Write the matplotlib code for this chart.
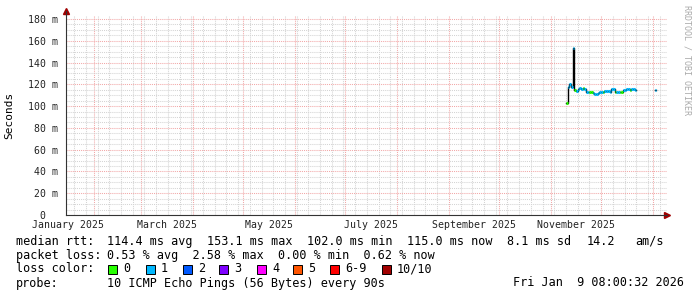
import numpy as np
import pandas as pd
import matplotlib
matplotlib.use("Agg")
import matplotlib.pyplot as plt
import matplotlib.dates as mdates
from matplotlib.patches import Rectangle
from matplotlib.ticker import MultipleLocator, FuncFormatter

W, H = 697, 297

# daily median rtt (ms) and lost pings (out of 10)
dias = ['2025-11-10', '2025-11-11', '2025-11-12', '2025-11-13', '2025-11-14',
        '2025-11-15', '2025-11-16', '2025-11-17', '2025-11-18', '2025-11-19',
        '2025-11-20', '2025-11-21', '2025-11-22', '2025-11-23', '2025-11-24',
        '2025-11-25', '2025-11-26', '2025-11-27', '2025-11-28', '2025-11-29',
        '2025-11-30', '2025-12-01', '2025-12-02', '2025-12-03', '2025-12-04',
        '2025-12-05', '2025-12-06', '2025-12-07', '2025-12-08', '2025-12-09',
        '2025-12-10', '2025-12-11', '2025-12-12', '2025-12-13', '2025-12-14',
        '2025-12-15', '2025-12-16', '2025-12-17', '2025-12-18', '2025-12-19',
        '2025-12-20', '2025-12-21', '2026-01-02']
mediana = [102.5, 117.5, 120.0, 118.0, 153.1, 114.5, 114.0, 116.0, 116.5, 116.0,
           116.5, 116.0, 112.5, 112.5, 113.0, 112.5, 112.0, 111.5, 111.5, 112.0,
           112.5, 112.5, 113.0, 113.5, 114.0, 113.5, 113.0, 115.5, 116.0, 113.0,
           112.5, 113.0, 112.5, 112.5, 114.5, 115.0, 115.5, 115.5, 115.0, 115.5,
           115.5, 115.0, 115.0]
perdas = [0, 1, 1, 1, 1, 0, 1, 1, 1, 1,
          0, 1, 1, 1, 0, 0, 1, 1, 1, 1,
          1, 1, 0, 1, 1, 1, 1, 1, 1, 0,
          1, 1, 0, 0, 1, 1, 1, 1, 0, 1,
          1, 1, 1]

loss_labels = ['0', '1', '2', '3', '4', '5', '6-9', '10/10']
loss_colors = ['#26ff00', '#00b8ff', '#0059ff', '#7e00ff', '#ff00ff',
               '#ff5500', '#ff0000', '#a10000']

x_labels = ['January 2025', 'March 2025', 'May 2025', 'July 2025',
            'September 2025', 'November 2025']

mono = 'DejaVu Sans Mono'

fig = plt.figure(figsize=(W / 100, H / 100), dpi=100)
fig.patch.set_facecolor('white')
ax = fig.add_axes([66 / W, 82 / H, (667 - 66) / W, 200 / H])

inicio = pd.Timestamp('2026-01-01') - pd.Timedelta(days=587 / 1.673)
fim = pd.Timestamp('2026-01-01') + pd.Timedelta(days=14 / 1.673)
ax.set_xlim(inicio, fim)
ax.set_ylim(0, 200 * 180 / 196)

# grid
ax.xaxis.set_major_locator(mdates.MonthLocator())
ax.xaxis.set_minor_locator(mdates.WeekdayLocator(byweekday=mdates.MO))
ax.yaxis.set_major_locator(MultipleLocator(20))
ax.yaxis.set_minor_locator(MultipleLocator(5))
ax.grid(which='minor', color='#d4d4d4', linestyle=(0, (1, 1)), linewidth=0.75)
ax.grid(which='major', color='#f2a8a8', linestyle=(0, (1, 1)), linewidth=0.75)
ax.set_axisbelow(True)
ax.tick_params(which='both', length=0)
ax.xaxis.set_major_formatter(FuncFormatter(lambda v, p: ''))
ax.yaxis.set_major_formatter(FuncFormatter(lambda v, p: '0  ' if v == 0 else '%d m' % v))
ax.tick_params(axis='y', labelsize=7.1, pad=6, labelcolor='#222222')
for t in ax.get_yticklabels():
    t.set_fontfamily(mono)
for s in ['top', 'right']:
    ax.spines[s].set_visible(False)
for s in ['left', 'bottom']:
    ax.spines[s].set_color('#333333')
    ax.spines[s].set_linewidth(0.8)

# month labels centred in their month
for i, lab in enumerate(x_labels):
    m0 = pd.Timestamp(2025, 1 + 2 * i, 1)
    centro = m0 + (m0 + pd.offsets.MonthBegin(1) - m0) / 2
    ax.text(centro, -0.05, lab, transform=ax.get_xaxis_transform(),
            ha='center', va='center', fontsize=7.1, family=mono, color='#222222')

# arrows
ax.plot([0], [1.02], marker='^', color='#a00000', markersize=4,
        transform=ax.transAxes, clip_on=False)
ax.plot([0, 0], [1.0, 1.02], color='#333333', lw=0.8, transform=ax.transAxes, clip_on=False)
ax.plot([1.0], [0], marker='>', color='#a00000', markersize=4,
        transform=ax.transAxes, clip_on=False)

ax.set_ylabel('Seconds', fontsize=8, family=mono, labelpad=10)

# median line
datas = pd.to_datetime(dias)
vals = np.array(mediana)
# black connectors between consecutive days
bloco_x, bloco_y = [datas[0]], [vals[0]]
for i in range(1, len(datas)):
    if (datas[i] - datas[i - 1]).days > 1:
        bloco_x.append(datas[i - 1] + pd.Timedelta(days=1))
        bloco_y.append(vals[i - 1])
        ax.step(bloco_x, bloco_y, where='post', color='black', lw=1.0, zorder=3)
        bloco_x, bloco_y = [], []
    bloco_x.append(datas[i])
    bloco_y.append(vals[i])
bloco_x.append(datas[-1] + pd.Timedelta(days=1))
bloco_y.append(vals[-1])
ax.step(bloco_x, bloco_y, where='post', color='black', lw=1.0, zorder=3)

for d, v, l in zip(datas, vals, perdas):
    idx = l if l <= 5 else (7 if l >= 10 else 6)
    ax.hlines(v, d, d + pd.Timedelta(days=1), color=loss_colors[idx], lw=2.2, zorder=4)

# legend rows
def ftext(x, y, s, **kw):
    fig.text(x / W, 1 - y / H, s, family=mono, fontsize=8.5, va='center', **kw)

ftext(16, 241.5, 'median rtt:')
for x, s in zip([107, 207, 307, 406.7, 506.7, 586.7, 635],
                ['114.4 ms avg', '153.1 ms max', '102.0 ms min', '115.0 ms now',
                 '8.1 ms sd', '14.2', 'am/s']):
    ftext(x, 241.5, s)
ftext(16, 255, 'packet loss:')
ftext(107, 255, '0.53 % avg  2.58 % max  0.00 % min  0.62 % now')
ftext(16, 269, 'loss color:')
box_x = [108, 146, 183, 219, 257, 293, 330, 381.7]
for bx, lab, c in zip(box_x, loss_labels, loss_colors):
    fig.patches.append(Rectangle((bx / W, 1 - 273.5 / H), 9 / W, 9 / H,
                                 transform=fig.transFigure, facecolor=c,
                                 edgecolor='black', lw=0.7))
    ftext(bx + 15, 269, lab)
ftext(16, 283, 'probe:')
ftext(107, 283, '10 ICMP Echo Pings (56 Bytes) every 90s')
ftext(513.3, 283, 'Fri Jan  9 08:00:32 2026')

fig.text(687 / W, 1 - 60 / H, 'RRDTOOL / TOBI OETIKER', family=mono, fontsize=6,
         rotation=270, ha='center', va='center', color='#aaaaaa')

fig.savefig('out.png', dpi=100)
